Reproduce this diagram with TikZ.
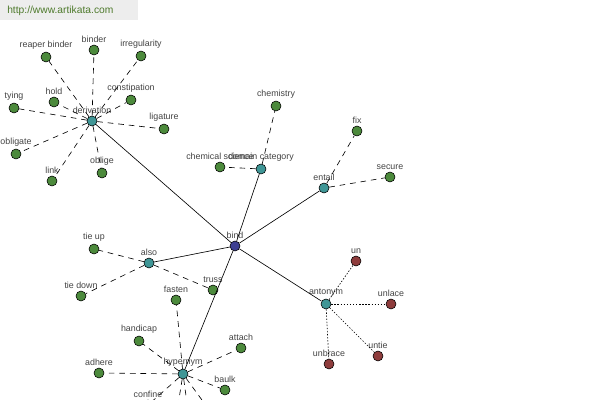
\documentclass[tikz,border=0pt]{standalone}
\usepackage{fontspec}
\setmainfont{Liberation Sans}
\definecolor{leafgreen}{HTML}{4C8A3C}
\definecolor{hubteal}{HTML}{3F9696}
\definecolor{rootblue}{HTML}{3E3F92}
\definecolor{oppred}{HTML}{8E3C3C}
\definecolor{labgray}{HTML}{444444}
\definecolor{siteolive}{HTML}{4E7A2C}
\tikzset{
  word/.style={circle,draw=black,line width=0.4pt,inner sep=0pt,minimum size=0.25cm},
  leaf/.style={word,fill=leafgreen},
  hub/.style={word,fill=hubteal},
  root/.style={word,fill=rootblue},
  opp/.style={word,fill=oppred},
  lab/.style={text=labgray,font=\fontsize{6.3}{7}\selectfont,inner sep=1.5pt},
  strong/.style={line width=0.45pt},
  weak/.style={line width=0.45pt,dash pattern=on 4pt off 3.5pt},
  faint/.style={line width=0.45pt,dash pattern=on 1pt off 1.2pt}
}
\begin{document}
\begin{tikzpicture}[x=0.025cm,y=-0.025cm]
\useasboundingbox (0,0) rectangle (600,400);
\clip (0,0) rectangle (600,400);
\fill[fill=white] (0,0) rectangle (600,400);
\fill[fill=black!7] (0,0) rectangle (138,20);
\node[anchor=west,text=siteolive,font=\fontsize{7.3}{8}\selectfont,inner sep=0pt] (site) at (7,11) {http://www.artikata.com};
\node[root,label={[lab]above:bind}] (bind) at (235,246) {};
\node[hub,label={[lab]above:derivation}] (deriv) at (92,121) {};
\node[hub,label={[lab]above:domain category}] (domcat) at (261,169) {};
\node[hub,label={[lab]above:entail}] (entail) at (324,188) {};
\node[hub,label={[lab]above:also}] (also) at (149,263) {};
\node[hub,label={[lab]above:antonym}] (antonym) at (326,304) {};
\node[hub,label={[lab]above:hypernym}] (hypernym) at (183,374) {};
\node[leaf,label={[lab]above:reaper binder}] (reaper) at (46,57) {};
\node[leaf,label={[lab]above:binder}] (binder) at (94,50) {};
\node[leaf,label={[lab]above:irregularity}] (irreg) at (141,56) {};
\node[leaf,label={[lab]above:hold}] (hold) at (54,102) {};
\node[leaf,label={[lab]above:constipation}] (constip) at (131,100) {};
\node[leaf,label={[lab]above:tying}] (tying) at (14,108) {};
\node[leaf,label={[lab]above:ligature}] (ligature) at (164,129) {};
\node[leaf,label={[lab]above:obligate}] (obligate) at (16,154) {};
\node[leaf,label={[lab]above:link}] (link) at (52,181) {};
\node[leaf,label={[lab]above:oblige}] (oblige) at (102,173) {};
\node[leaf,label={[lab]above:chemistry}] (chemistry) at (276,106) {};
\node[leaf,label={[lab]above:chemical science}] (chemsci) at (220,167) {};
\node[leaf,label={[lab]above:fix}] (fix) at (357,131) {};
\node[leaf,label={[lab]above:secure}] (secure) at (390,177) {};
\node[leaf,label={[lab]above:tie up}] (tieup) at (94,249) {};
\node[leaf,label={[lab]above:tie down}] (tiedown) at (81,296) {};
\node[leaf,label={[lab]above:truss}] (truss) at (213,290) {};
\node[opp,label={[lab]above:un}] (un) at (356,261) {};
\node[opp,label={[lab]above:unlace}] (unlace) at (391,304) {};
\node[opp,label={[lab]above:untie}] (untie) at (378,356) {};
\node[opp,label={[lab]above:unbrace}] (unbrace) at (329,364) {};
\node[leaf,label={[lab]above:fasten}] (fasten) at (176,300) {};
\node[leaf,label={[lab]above:handicap}] (handicap) at (139,341) {};
\node[leaf,label={[lab]above:attach}] (attach) at (241,348) {};
\node[leaf,label={[lab]above:adhere}] (adhere) at (99,373) {};
\node[leaf,label={[lab]above:baulk}] (baulk) at (225,390) {};
\node[leaf,label={[lab]above:confine}] (confine) at (148,405) {};
\coordinate (hypa) at (174,430);
\coordinate (hypb) at (191,432);
\coordinate (hypc) at (218,422);
\draw[strong] (bind) -- (deriv);
\draw[strong] (bind) -- (domcat);
\draw[strong] (bind) -- (entail);
\draw[strong] (bind) -- (also);
\draw[strong] (bind) -- (antonym);
\draw[strong] (bind) -- (hypernym);
\draw[weak] (deriv) -- (reaper);
\draw[weak] (deriv) -- (binder);
\draw[weak] (deriv) -- (irreg);
\draw[weak] (deriv) -- (hold);
\draw[weak] (deriv) -- (constip);
\draw[weak] (deriv) -- (tying);
\draw[weak] (deriv) -- (ligature);
\draw[weak] (deriv) -- (obligate);
\draw[weak] (deriv) -- (link);
\draw[weak] (deriv) -- (oblige);
\draw[weak] (domcat) -- (chemistry);
\draw[weak] (domcat) -- (chemsci);
\draw[weak] (entail) -- (fix);
\draw[weak] (entail) -- (secure);
\draw[weak] (also) -- (tieup);
\draw[weak] (also) -- (tiedown);
\draw[weak] (also) -- (truss);
\draw[faint] (antonym) -- (un);
\draw[faint] (antonym) -- (unlace);
\draw[faint] (antonym) -- (untie);
\draw[faint] (antonym) -- (unbrace);
\draw[weak] (hypernym) -- (fasten);
\draw[weak] (hypernym) -- (handicap);
\draw[weak] (hypernym) -- (attach);
\draw[weak] (hypernym) -- (adhere);
\draw[weak] (hypernym) -- (baulk);
\draw[weak] (hypernym) -- (confine);
\draw[weak] (hypernym) -- (hypa);
\draw[weak] (hypernym) -- (hypb);
\draw[weak] (hypernym) -- (hypc);
\end{tikzpicture}
\end{document}
